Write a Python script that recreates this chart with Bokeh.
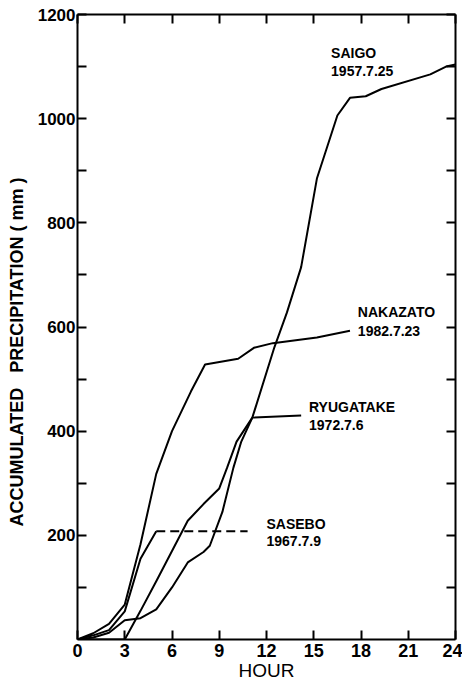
from bokeh.plotting import figure
from bokeh.models import LinearAxis, FixedTicker, Range1d
from bokeh.core.properties import value
from bokeh.embed import file_html
from bokeh.resources import INLINE

# ---- data (hours, accumulated precipitation in mm) ----
saigo_h = [0, 1, 2, 3, 4, 5, 6, 7, 8, 8.4, 9.2, 9.9, 10.4, 11.1, 12.5, 13.3, 14.2, 15.2, 16.5, 17.3, 18.3, 19.3, 22.4, 23.4, 24]
saigo_mm = [0, 4, 13, 37, 41, 58, 100, 148, 168, 180, 245, 330, 380, 426, 561, 628, 715, 885, 1006, 1040, 1043, 1057, 1085, 1100, 1104]

nakazato_h = [0, 1, 2, 3, 4, 5, 6, 7.2, 8.1, 10.2, 11.2, 12.4, 15.2, 17.3]
nakazato_mm = [0, 12, 30, 67, 183, 318, 400, 476, 528, 539, 560, 569, 580, 593]

ryugatake_h = [0, 1, 2, 3, 4, 5, 6, 7, 8, 9, 9.5, 10.1, 11.1]
ryugatake_mm = [0, 0, 0, 0, 55, 112, 170, 228, 260, 290, 330, 380, 426]
ryugatake_leader_h = [11.1, 14.2]
ryugatake_leader_mm = [426, 430]

sasebo_h = [0, 1, 2, 3, 4, 5]
sasebo_mm = [0, 8, 18, 54, 155, 208]
sasebo_dash_h = [5, 10.8]
sasebo_dash_mm = [208, 208]

label_names = ["SAIGO", "NAKAZATO", "RYUGATAKE", "SASEBO"]
label_dates = ["1957.7.25", "1982.7.23", "1972.7.6", "1967.7.9"]
label_h = [16.1, 17.8, 14.7, 12.0]
label_name_mm = [1126, 629, 446, 222]
label_date_mm = [1092, 592, 412, 189]

x_ticks = [0, 3, 6, 9, 12, 15, 18, 21, 24]
y_major = [200, 400, 600, 800, 1000, 1200]
y_minor = [100, 300, 500, 700, 900, 1100]

FONT = "'Liberation Sans', sans-serif"

p = figure(width=462, height=683,
           x_range=Range1d(0, 24), y_range=Range1d(0, 1200),
           output_backend="svg", toolbar_location=None,
           min_border_left=77, min_border_right=7,
           min_border_top=14, min_border_bottom=44)
p.grid.visible = False
p.outline_line_color = None
p.background_fill_color = "white"
p.border_fill_color = "white"

def style_axis(ax):
    ax.axis_line_width = 2
    ax.axis_line_color = "black"
    ax.major_tick_line_color = "black"
    ax.minor_tick_line_color = "black"
    ax.major_tick_line_width = 2
    ax.minor_tick_line_width = 2
    ax.major_tick_in = 9
    ax.major_tick_out = 0
    ax.minor_tick_in = 9
    ax.minor_tick_out = 0
    ax.major_label_text_color = "black"
    ax.axis_label_text_color = "black"

# bottom x axis
xa = p.xaxis[0]
xa.ticker = FixedTicker(ticks=x_ticks)
style_axis(xa)
xa.major_label_text_font = FONT
xa.major_label_text_font_style = "bold"
xa.major_label_text_font_size = "18px"
xa.major_label_standoff = 4
xa.axis_label = "HOUR"
xa.axis_label_text_font = FONT
xa.axis_label_text_font_style = "normal"
xa.axis_label_text_font_size = "19px"
xa.axis_label_standoff = 0

# left y axis
ya = p.yaxis[0]
ya.ticker = FixedTicker(ticks=y_major, minor_ticks=y_minor)
style_axis(ya)
ya.major_label_text_font = FONT
ya.major_label_text_font_style = "bold"
ya.major_label_text_font_size = "17px"
ya.major_label_standoff = 2
ya.axis_label = "ACCUMULATED\u00a0\u00a0\u00a0PRECIPITATION\u00a0(\u00a0mm\u00a0)" + "\u00a0" * 10
ya.axis_label_text_font = FONT
ya.axis_label_text_font_style = "bold"
ya.axis_label_text_font_size = "18px"
ya.axis_label_standoff = 8

# top axis (ticks only)
ta = LinearAxis(ticker=FixedTicker(ticks=x_ticks))
style_axis(ta)
ta.major_label_text_font_size = "1px"
ta.major_label_text_color = None
ta.major_label_standoff = 0
p.add_layout(ta, "above")

# right axis (ticks only)
ra = LinearAxis(ticker=FixedTicker(ticks=y_major, minor_ticks=y_minor))
style_axis(ra)
ra.major_label_text_font_size = "1px"
ra.major_label_text_color = None
ra.major_label_standoff = 0
p.add_layout(ra, "right")

lw = 2
p.line(saigo_h, saigo_mm, line_color="black", line_width=lw)
p.line(nakazato_h, nakazato_mm, line_color="black", line_width=lw)
p.line(ryugatake_h, ryugatake_mm, line_color="black", line_width=lw)
p.line(ryugatake_leader_h, ryugatake_leader_mm, line_color="black", line_width=lw)
p.line(sasebo_h, sasebo_mm, line_color="black", line_width=lw)
p.line(sasebo_dash_h, sasebo_dash_mm, line_color="black", line_width=lw, line_dash="9 5")

p.text(x=label_h, y=label_name_mm, text=label_names,
       text_font=value(FONT), text_font_style="bold", text_font_size="14px",
       text_align="left", text_baseline="middle", text_color="black")
p.text(x=label_h, y=label_date_mm, text=label_dates,
       text_font=value(FONT), text_font_style="bold", text_font_size="14px",
       text_align="left", text_baseline="middle", text_color="black")

open("out.html", "w").write(file_html(p, INLINE))
